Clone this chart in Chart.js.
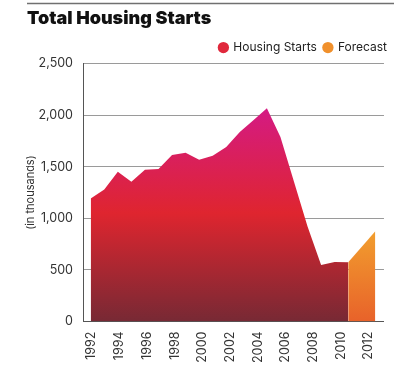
<!DOCTYPE html>
<html>
<head>
<meta charset="utf-8">
<script src="https://cdn.jsdelivr.net/npm/chart.js@4/dist/chart.umd.min.js"></script>
<style>
html,body{margin:0;padding:0;background:#fff;}
#wrap{width:394px;height:367px;position:relative;}
</style>
</head>
<body>
<div id="wrap"><canvas id="c" width="394" height="367"></canvas></div>
<script>
// ---- data ----
const actualYears = [1992,1993,1994,1995,1996,1997,1998,1999,2000,2001,2002,2003,2004,2005,2006,2007,2008,2009,2010,2011];
const actualValues = [1192,1279,1452,1356,1471,1478,1615,1635,1567,1606,1692,1837,1952,2067,1788,1355,920,548,577,575];
const forecastYears = [2011,2013];
const forecastValues = [575,875];
const xTickYears = [1992,1994,1996,1998,2000,2002,2004,2006,2008,2010,2012];
const yTickValues = [0,500,1000,1500,2000,2500];
const seriesNames = ['Housing Starts','Forecast'];
const legendColors = ['#e0283c','#f0902c'];

const FONT = 'Inter, "Liberation Sans", sans-serif';

function actualGradient(ctx){
  const chart = ctx.chart; const ca = chart.chartArea;
  if(!ca) return legendColors[0];
  const y = chart.scales.y;
  const g = chart.ctx.createLinearGradient(0, y.getPixelForValue(2100), 0, y.getPixelForValue(0));
  g.addColorStop(0,'#d41a86');
  g.addColorStop(0.5,'#df252f');
  g.addColorStop(1,'#772934');
  return g;
}
function forecastGradient(ctx){
  const chart = ctx.chart; const ca = chart.chartArea;
  if(!ca) return legendColors[1];
  const y = chart.scales.y;
  const g = chart.ctx.createLinearGradient(0, y.getPixelForValue(900), 0, y.getPixelForValue(0));
  g.addColorStop(0,'#f2a02e');
  g.addColorStop(1,'#e8622a');
  return g;
}

const topRule = {
  id:'topRule',
  beforeDraw(chart){
    const c = chart.ctx;
    c.save();
    c.fillStyle = '#fff';
    c.fillRect(0,0,chart.width,chart.height);
    c.strokeStyle = '#707070';
    c.lineWidth = 1.5;
    c.beginPath(); c.moveTo(27,3.5); c.lineTo(394,3.5); c.stroke();
    c.restore();
  }
};

new Chart(document.getElementById('c'), {
  type:'line',
  data:{
    datasets:[
      {label:seriesNames[0], data:actualYears.map((x,i)=>({x, y:actualValues[i]})),
       fill:'origin', backgroundColor:actualGradient, borderWidth:0, pointRadius:0, tension:0, xAxisID:'x', yAxisID:'y'},
      {label:seriesNames[1], data:forecastYears.map((x,i)=>({x, y:forecastValues[i]})),
       fill:'origin', backgroundColor:forecastGradient, borderWidth:0, pointRadius:0, tension:0, xAxisID:'x', yAxisID:'y'}
    ]
  },
  options:{
    responsive:false,
    animation:false,
    events:[],
    layout:{padding:{left:27,right:0,top:6,bottom:-6}},
    plugins:{
      title:{display:true, text:'Total Housing Starts', align:'start', color:'#111',
        font:{family:FONT, size:18, weight:'900'}, padding:{top:2,bottom:5}},
      legend:{display:true, position:'top', align:'end',
        labels:{usePointStyle:true, pointStyle:'circle', boxWidth:8, boxHeight:8, padding:7, color:'#222',
          font:{family:FONT, size:12},
          generateLabels(chart){
            const items = Chart.defaults.plugins.legend.labels.generateLabels(chart);
            items.forEach((it,i)=>{it.fillStyle=legendColors[i]; it.strokeStyle=legendColors[i]; it.lineWidth=0;});
            return items;
          }}},
      tooltip:{enabled:false}
    },
    scales:{
      x:{type:'linear', display:false, min:1991.43, max:2013.64},
      xt:{type:'linear', position:'bottom', min:1991.37, max:2013.12,
        afterBuildTicks(s){ s.ticks = xTickYears.map(v=>({value:v})); },
        grid:{display:false, drawTicks:false},
        border:{display:true, color:'#555', width:1},
        ticks:{minRotation:90, maxRotation:90, padding:10, color:'#333', font:{family:FONT, size:12.5},
          callback:(v)=>String(v), autoSkip:false}},
      y:{type:'linear', min:0, max:2500,
        afterBuildTicks(s){ s.ticks = yTickValues.map(v=>({value:v})); },
        afterFit(s){ s.width = 56; },
        grid:{color:(c)=>c.tick && c.tick.value===0 ? 'rgba(0,0,0,0)' : '#9a9a9a', borderDash:[1,2], drawTicks:false, lineWidth:1},
        border:{display:true, color:'#555', width:1},
        title:{display:true, text:'(in thousands)', color:'#333', font:{family:FONT, size:11}, padding:{top:-3,bottom:4}},
        ticks:{padding:10, color:'#333', font:{family:FONT, size:12.5},
          callback:(v)=>v.toLocaleString('en-US')}}
    }
  },
  plugins:[topRule]
});
</script>
</body>
</html>
